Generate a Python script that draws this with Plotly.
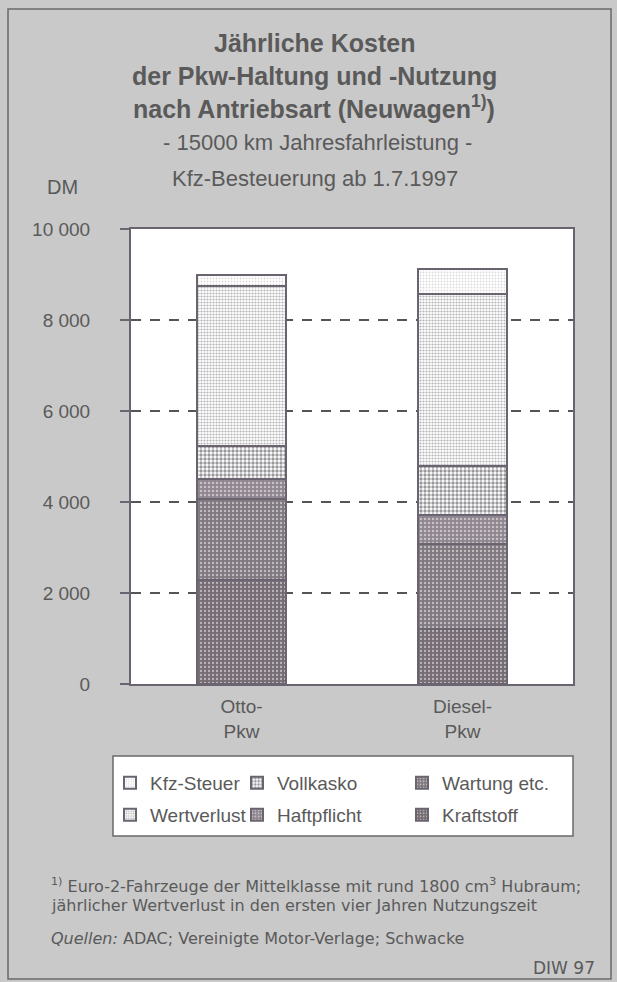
import plotly.graph_objects as go

# ---------------- data ----------------
categories = ["Otto-<br>Pkw", "Diesel-<br>Pkw"]
# stack order bottom -> top
kraftstoff = [2290, 1200]
wartung = [1770, 1870]
haftpflicht = [440, 640]
vollkasko = [740, 1080]
wertverlust = [3510, 3775]
kfz_steuer = [250, 555]

y_tickvals = [0, 2000, 4000, 6000, 8000, 10000]
y_ticktext = ["0", "2 000", "4 000", "6 000", "8 000", "10 000"]

# ---------------- layout helpers ----------------
W, H = 617, 982
L, R, T, B = 131, 573, 229, 684  # plot area in pixels


def xp(px):
    return (px - L) / (R - L)


def yp(py):
    return (B - py) / (B - T)


TXT = "#5a5a5a"
FONT = "Liberation Sans, Arial, sans-serif"
WIDE = "DejaVu Sans, sans-serif"
EDGE = "#6a6470"

series = [
    ("Kraftstoff", kraftstoff, dict(shape=".", bgcolor="#756d73", fgcolor="#ffffff", size=4, solidity=0.25), 6),
    ("Wartung etc.", wartung, dict(shape=".", bgcolor="#7f787e", fgcolor="#ffffff", size=4, solidity=0.28), 3),
    ("Haftpflicht", haftpflicht, dict(shape=".", bgcolor="#8e858e", fgcolor="#ffffff", size=4, solidity=0.32), 5),
    ("Vollkasko", vollkasko, dict(shape=".", bgcolor="#ffffff", fgcolor="#333035", size=4, solidity=0.55), 2),
    ("Wertverlust", wertverlust, dict(shape=".", bgcolor="#ffffff", fgcolor="#6e6b70", size=3, solidity=0.42), 4),
    ("Kfz-Steuer", kfz_steuer, dict(shape=".", bgcolor="#ffffff", fgcolor="#b8b8b8", size=3, solidity=0.3), 1),
]

fig = go.Figure()
legend_names = {1: "legend", 2: "legend2", 3: "legend3", 4: "legend4", 5: "legend5", 6: "legend6"}
for name, vals, pat, slot in series:
    fig.add_trace(go.Bar(
        x=categories, y=vals, name=name, width=0.4,
        marker=dict(color=pat["bgcolor"], pattern=pat, line=dict(color=EDGE, width=2)),
        legend=legend_names[slot], showlegend=True,
    ))

# legend slots: 1..3 first row, 4..6 second row
col_x = [110, 237, 402]
row_y = [783, 815]
legend_layout = {}
for slot in range(1, 7):
    r = (slot - 1) // 3
    c = (slot - 1) % 3
    legend_layout[legend_names[slot]] = dict(
        x=xp(col_x[c]), y=yp(row_y[r]), xanchor="left", yanchor="middle",
        bgcolor="rgba(0,0,0,0)", borderwidth=0,
        font=dict(family=FONT, size=19, color=TXT),
    )

annotations = []


def txt(text, x, y, size, family=FONT, xanchor="center"):
    annotations.append(dict(
        text=text, x=xp(x), y=yp(y), xref="paper", yref="paper",
        xanchor=xanchor, yanchor="middle", showarrow=False,
        font=dict(family=family, size=size, color=TXT),
    ))


txt("<b>Jährliche Kosten</b>", 314, 43, 25)
txt("<b>der Pkw-Haltung und -Nutzung</b>", 314, 76, 25)
txt("<b>nach Antriebsart (Neuwagen<sup>1)</sup>)</b>", 314, 107, 25)
txt("- 15000 km Jahresfahrleistung -", 317, 142, 22)
txt("Kfz-Besteuerung ab 1.7.1997", 315, 179, 22)
txt("DM", 62, 187, 20)
txt("<sup>1)</sup> Euro-2-Fahrzeuge der Mittelklasse mit rund 1800 cm<sup>3</sup> Hubraum;", 49, 885, 16, WIDE, "left")
txt("jährlicher Wertverlust in den ersten vier Jahren Nutzungszeit", 49, 905, 16, WIDE, "left")
txt("<i>Quellen:</i> ADAC; Vereinigte Motor-Verlage; Schwacke", 49, 938, 16, WIDE, "left")
txt("DIW 97", 597, 968, 17, WIDE, "right")

shapes = [
    # outer frame
    dict(type="rect", xref="paper", yref="paper", x0=xp(8), x1=xp(611), y0=yp(979), y1=yp(9),
         line=dict(color="#6a6a6a", width=1.5), fillcolor="rgba(0,0,0,0)", layer="below"),
    # legend box
    dict(type="rect", xref="paper", yref="paper", x0=xp(113), x1=xp(573), y0=yp(836), y1=yp(756),
         line=dict(color="#6a6a6a", width=1.5), fillcolor="#ffffff", layer="below"),
]

fig.update_layout(
    width=W, height=H,
    margin=dict(l=L, r=W - R, t=T, b=H - B, pad=0),
    paper_bgcolor="#c9c9c9",
    plot_bgcolor="#ffffff",
    barmode="stack",
    bargap=0.6,
    font=dict(family=FONT, color=TXT),
    annotations=annotations,
    shapes=shapes,
    **legend_layout,
)

fig.update_yaxes(
    range=[0, 10000], tickvals=y_tickvals, ticktext=y_ticktext,
    showgrid=True, gridcolor="#555555", gridwidth=1.5, griddash="10px,9px",
    zeroline=False, showline=True, linecolor=EDGE, linewidth=2, mirror=True,
    ticks="outside", ticklen=9, tickwidth=1.5, tickcolor=EDGE,
    ticklabelstandoff=26,
    tickfont=dict(family=FONT, size=19, color=TXT),
)
fig.update_xaxes(
    showline=True, linecolor=EDGE, linewidth=2, mirror=True,
    ticks="", showgrid=False, ticklabelstandoff=4,
    tickfont=dict(family=FONT, size=19, color=TXT),
)

fig.write_html(
    "out.html",
    config={"displayModeBar": False},
    post_script="document.body.style.margin='0';",
)
